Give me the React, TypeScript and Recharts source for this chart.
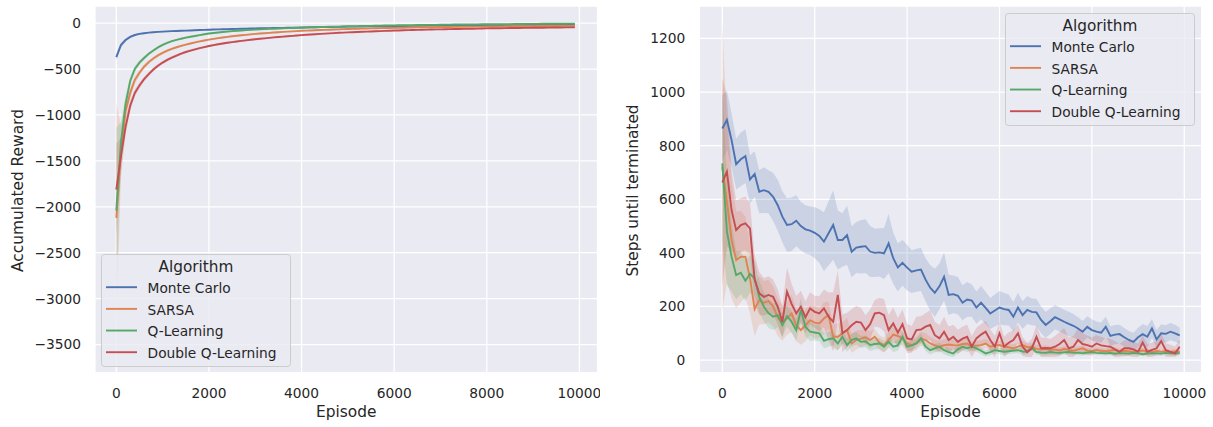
import React from 'react';
import { ComposedChart, Line, Area, XAxis, YAxis, CartesianGrid, Legend } from 'recharts';

// ---------- data ----------
const EPISODES = [
  0, 100, 200, 300, 400, 500, 600, 700, 800, 900,
  1000, 1100, 1200, 1300, 1400, 1500, 1600, 1700, 1800, 1900,
  2000, 2100, 2200, 2300, 2400, 2500, 2600, 2700, 2800, 2900,
  3000, 3100, 3200, 3300, 3400, 3500, 3600, 3700, 3800, 3900,
  4000, 4100, 4200, 4300, 4400, 4500, 4600, 4700, 4800, 4900,
  5000, 5100, 5200, 5300, 5400, 5500, 5600, 5700, 5800, 5900,
  6000, 6100, 6200, 6300, 6400, 6500, 6600, 6700, 6800, 6900,
  7000, 7100, 7200, 7300, 7400, 7500, 7600, 7700, 7800, 7900,
  8000, 8100, 8200, 8300, 8400, 8500, 8600, 8700, 8800, 8900,
  9000, 9100, 9200, 9300, 9400, 9500, 9600, 9700, 9800, 9900,
];

const SERIES_NAMES = ['Monte Carlo', 'SARSA', 'Q-Learning', 'Double Q-Learning'];
const SERIES_KEYS = ['mc', 'sarsa', 'q', 'dq'];
const SERIES_COLORS = ['#4C72B0', '#DD8452', '#55A868', '#C44E52'];

const X_TICKS = [0, 2000, 4000, 6000, 8000, 10000];
const REWARD_TICKS = [-3500, -3000, -2500, -2000, -1500, -1000, -500, 0];
const STEPS_TICKS = [0, 200, 400, 600, 800, 1000, 1200];

// Accumulated reward (left panel)
const MC_REWARD = [
  -370, -240, -185, -150, -130, -118, -110, -104, -100, -96,
  -93, -90, -88, -86, -84, -82, -80, -78, -76, -74,
  -72, -70, -69, -67, -66, -64, -63, -62, -61, -59,
  -58, -57, -56, -55, -54, -53, -52, -51, -50, -49,
  -48, -47, -46, -45, -44, -43, -42, -41, -41, -40,
  -39, -38, -38, -37, -36, -35, -35, -34, -33, -33,
  -32, -31, -31, -30, -30, -29, -29, -28, -28, -27,
  -27, -26, -26, -25, -25, -24, -24, -24, -23, -23,
  -22, -22, -22, -21, -21, -21, -20, -20, -20, -19,
  -19, -19, -18, -18, -18, -17, -17, -17, -16, -16,
];
const SARSA_REWARD = [
  -2120, -1400, -960, -760, -620, -540, -475, -425, -385, -352,
  -324, -300, -280, -263, -248, -235, -222, -210, -199, -189,
  -180, -172, -164, -157, -150, -144, -138, -133, -128, -123,
  -118, -114, -110, -106, -102, -99, -96, -93, -90, -87,
  -84, -82, -80, -78, -76, -74, -72, -70, -68, -66,
  -65, -63, -62, -60, -59, -58, -56, -55, -54, -53,
  -52, -51, -50, -49, -48, -47, -46, -46, -45, -44,
  -43, -43, -42, -41, -41, -40, -39, -39, -38, -38,
  -37, -37, -36, -36, -35, -35, -34, -34, -33, -33,
  -33, -32, -32, -31, -31, -31, -30, -30, -30, -29,
];
const Q_REWARD = [
  -2040, -1300, -880, -630, -500, -430, -380, -335, -298, -265,
  -238, -215, -197, -183, -170, -159, -149, -140, -131, -122,
  -114, -108, -102, -97, -92, -88, -84, -80, -77, -74,
  -71, -68, -66, -63, -61, -59, -57, -55, -53, -51,
  -50, -48, -46, -45, -43, -42, -40, -39, -38, -36,
  -35, -34, -33, -32, -31, -30, -29, -28, -27, -26,
  -25, -24, -24, -23, -22, -21, -21, -20, -19, -19,
  -18, -17, -17, -16, -16, -15, -15, -14, -14, -13,
  -13, -12, -12, -12, -11, -11, -10, -10, -10, -9,
  -9, -9, -8, -8, -8, -7, -7, -7, -6, -6,
];
const DQ_REWARD = [
  -1812, -1450, -1130, -900, -760, -680, -610, -555, -505, -465,
  -430, -400, -375, -353, -333, -315, -300, -286, -273, -261,
  -250, -240, -231, -222, -214, -207, -200, -194, -188, -182,
  -176, -171, -166, -161, -156, -151, -147, -143, -139, -135,
  -131, -127, -124, -121, -118, -115, -112, -109, -106, -104,
  -101, -99, -97, -95, -93, -91, -89, -87, -85, -83,
  -81, -80, -78, -77, -75, -74, -73, -71, -70, -69,
  -68, -67, -66, -65, -64, -63, -62, -61, -60, -59,
  -58, -57, -57, -56, -55, -54, -54, -53, -52, -52,
  -51, -50, -50, -49, -49, -48, -48, -47, -47, -46,
];
// confidence-band half widths (left panel)
const MC_REWARD_CI = [
  40, 28, 18, 14, 12, 10, 9, 8, 8, 7,
  7, 7, 6, 6, 6, 6, 6, 6, 6, 6,
  6, 5, 5, 5, 5, 5, 5, 5, 5, 5,
  5, 5, 5, 5, 5, 5, 5, 5, 5, 5,
  5, 5, 5, 5, 5, 5, 5, 5, 5, 5,
  4, 4, 4, 4, 4, 4, 4, 4, 4, 4,
  4, 4, 4, 4, 4, 4, 4, 4, 4, 4,
  4, 4, 4, 4, 4, 4, 4, 4, 4, 4,
  4, 4, 4, 4, 4, 4, 4, 4, 4, 4,
  4, 4, 4, 4, 4, 4, 4, 4, 4, 4,
];
const SARSA_REWARD_CI = [
  1250, 280, 110, 60, 42, 32, 26, 22, 19, 17,
  16, 15, 14, 13, 13, 12, 12, 11, 11, 11,
  10, 10, 10, 10, 9, 9, 9, 9, 9, 9,
  8, 8, 8, 8, 8, 8, 8, 8, 8, 8,
  7, 7, 7, 7, 7, 7, 7, 7, 7, 7,
  7, 7, 6, 6, 6, 6, 6, 6, 6, 6,
  6, 6, 6, 6, 6, 6, 6, 6, 6, 6,
  6, 6, 6, 6, 6, 5, 5, 5, 5, 5,
  5, 5, 5, 5, 5, 5, 5, 5, 5, 5,
  5, 5, 5, 5, 5, 5, 5, 5, 5, 5,
];
const Q_REWARD_CI = [
  900, 220, 90, 50, 35, 26, 21, 18, 16, 14,
  13, 12, 12, 11, 11, 10, 10, 10, 9, 9,
  9, 9, 9, 8, 8, 8, 8, 8, 8, 8,
  8, 7, 7, 7, 7, 7, 7, 7, 7, 7,
  7, 7, 7, 6, 6, 6, 6, 6, 6, 6,
  6, 6, 6, 6, 6, 6, 6, 6, 6, 6,
  5, 5, 5, 5, 5, 5, 5, 5, 5, 5,
  5, 5, 5, 5, 5, 5, 5, 5, 5, 5,
  5, 5, 5, 5, 5, 5, 5, 5, 5, 5,
  5, 5, 5, 5, 5, 5, 5, 5, 5, 5,
];
const DQ_REWARD_CI = [
  500, 200, 90, 55, 40, 32, 27, 24, 21, 19,
  18, 17, 16, 15, 14, 14, 13, 13, 12, 12,
  12, 11, 11, 11, 10, 10, 10, 10, 10, 10,
  9, 9, 9, 9, 9, 9, 9, 9, 9, 9,
  8, 8, 8, 8, 8, 8, 8, 8, 8, 8,
  8, 8, 7, 7, 7, 7, 7, 7, 7, 7,
  7, 7, 7, 7, 7, 7, 7, 7, 7, 7,
  6, 6, 6, 6, 6, 6, 6, 6, 6, 6,
  6, 6, 6, 6, 6, 6, 6, 6, 6, 6,
  6, 6, 6, 6, 6, 6, 6, 6, 6, 6,
];

// Steps until terminated (right panel)
const MC_STEPS = [
  864, 896, 821, 731, 749, 761, 674, 694, 628, 634,
  628, 609, 578, 535, 504, 507, 520, 500, 488, 483,
  475, 463, 442, 473, 504, 448, 448, 466, 404, 420,
  423, 425, 405, 400, 402, 398, 435, 380, 346, 363,
  345, 330, 335, 338, 300, 270, 251, 275, 311, 243,
  246, 240, 214, 226, 222, 196, 214, 195, 174, 185,
  196, 190, 187, 162, 196, 168, 187, 180, 178, 150,
  131, 145, 160, 152, 143, 135, 128, 118, 106, 124,
  112, 106, 102, 124, 90, 95, 97, 85, 75, 68,
  85, 97, 87, 118, 77, 100, 98, 106, 100, 92,
];
const SARSA_STEPS = [
  720, 591, 450, 373, 386, 385, 305, 190, 224, 214,
  220, 200, 160, 137, 155, 174, 130, 112, 130, 149,
  140, 137, 155, 168, 87, 87, 100, 112, 62, 75,
  80, 85, 75, 87, 65, 56, 75, 95, 90, 81,
  62, 56, 62, 80, 75, 62, 55, 50, 56, 58,
  56, 55, 60, 62, 50, 54, 56, 62, 50, 54,
  56, 50, 48, 44, 50, 56, 48, 50, 42, 40,
  42, 38, 40, 36, 42, 38, 35, 40, 44, 36,
  34, 38, 35, 33, 36, 38, 32, 35, 33, 30,
  34, 36, 32, 30, 34, 31, 33, 30, 32, 31,
];
const Q_STEPS = [
  734, 480, 386, 317, 326, 296, 321, 305, 236, 199,
  175, 162, 168, 131, 164, 143, 112, 187, 124, 106,
  103, 100, 72, 78, 81, 62, 87, 56, 75, 81,
  68, 70, 56, 60, 62, 50, 68, 50, 55, 87,
  50, 55, 62, 81, 50, 37, 44, 50, 37, 30,
  25, 40, 50, 44, 50, 44, 35, 25, 30, 37,
  34, 31, 33, 36, 37, 32, 31, 47, 30, 28,
  27, 30, 28, 27, 29, 30, 28, 27, 26, 28,
  30, 27, 26, 25, 27, 24, 26, 25, 24, 27,
  25, 22, 24, 26, 25, 24, 27, 25, 24, 26,
];
const DQ_STEPS = [
  663, 703, 560, 485, 504, 510, 491, 300, 249, 236,
  243, 236, 199, 143, 255, 210, 174, 199, 160, 193,
  180, 174, 193, 162, 143, 243, 100, 112, 130, 143,
  140, 112, 134, 174, 177, 168, 112, 137, 102, 134,
  81, 77, 112, 114, 125, 131, 93, 81, 106, 75,
  87, 68, 80, 87, 50, 81, 95, 106, 75, 50,
  100, 50, 65, 75, 100, 50, 30, 44, 87, 44,
  45, 44, 50, 60, 75, 44, 50, 75, 60, 56,
  50, 62, 55, 52, 50, 40, 31, 44, 44, 40,
  31, 65, 31, 38, 44, 71, 37, 31, 25, 50,
];
const MC_STEPS_CI = [
  125, 110, 100, 95, 100, 100, 90, 85, 80, 85,
  80, 90, 95, 95, 100, 100, 95, 90, 90, 90,
  95, 100, 110, 120, 130, 110, 100, 110, 95, 95,
  100, 100, 95, 90, 90, 95, 110, 95, 90, 85,
  85, 80, 80, 80, 80, 85, 90, 85, 90, 75,
  70, 70, 65, 65, 60, 60, 62, 60, 58, 60,
  62, 60, 58, 55, 55, 52, 52, 50, 50, 50,
  48, 48, 46, 45, 45, 45, 44, 42, 40, 40,
  40, 38, 38, 38, 36, 36, 35, 35, 34, 34,
  36, 38, 40, 35, 35, 34, 32, 32, 32, 30,
];
const SARSA_STEPS_CI = [
  540, 300, 220, 180, 170, 150, 130, 100, 90, 80,
  80, 75, 70, 65, 60, 70, 60, 55, 60, 55,
  60, 55, 60, 50, 45, 50, 40, 45, 35, 35,
  32, 30, 32, 30, 28, 28, 30, 30, 28, 28,
  26, 25, 25, 26, 25, 24, 22, 22, 22, 22,
  20, 20, 20, 20, 18, 18, 18, 18, 18, 16,
  16, 16, 15, 15, 15, 15, 14, 14, 14, 14,
  13, 13, 13, 12, 12, 12, 12, 12, 11, 11,
  11, 11, 11, 10, 10, 10, 10, 10, 10, 10,
  10, 10, 10, 9, 9, 9, 9, 9, 9, 9,
];
const Q_STEPS_CI = [
  290, 200, 130, 90, 80, 75, 70, 65, 60, 55,
  55, 50, 45, 45, 40, 40, 40, 45, 35, 35,
  30, 30, 28, 28, 26, 26, 25, 25, 24, 24,
  22, 22, 22, 20, 20, 20, 20, 20, 20, 20,
  18, 18, 18, 18, 16, 16, 16, 15, 15, 15,
  14, 14, 14, 14, 13, 13, 13, 12, 12, 12,
  12, 12, 11, 11, 11, 11, 10, 10, 10, 10,
  10, 10, 9, 9, 9, 9, 9, 9, 9, 9,
  8, 8, 8, 8, 8, 8, 8, 8, 8, 8,
  8, 8, 8, 8, 8, 8, 8, 8, 8, 8,
];
const DQ_STEPS_CI = [
  390, 280, 150, 110, 100, 100, 95, 90, 80, 70,
  70, 65, 65, 60, 90, 75, 65, 60, 60, 60,
  60, 65, 70, 90, 110, 90, 70, 65, 60, 60,
  55, 55, 55, 50, 55, 60, 55, 60, 55, 55,
  55, 50, 50, 50, 50, 55, 50, 50, 55, 50,
  45, 45, 45, 45, 40, 40, 40, 40, 40, 40,
  40, 38, 38, 36, 35, 35, 35, 35, 45, 40,
  38, 35, 40, 45, 45, 40, 40, 45, 40, 36,
  34, 32, 32, 30, 30, 30, 30, 30, 28, 28,
  30, 28, 28, 28, 26, 28, 26, 26, 26, 26,
];

// ---------- helpers ----------
type Row = Record<string, number | number[]>;

function buildRows(lines: number[][], halves: number[][], floor: number): Row[] {
  return EPISODES.map((ep, i) => {
    const row: Row = { ep };
    SERIES_KEYS.forEach((k, s) => {
      const v = lines[s][i];
      const h = halves[s][i];
      row[k] = v;
      row[k + 'Band'] = [Math.max(v - h, floor), v + h];
    });
    return row;
  });
}

const REWARD_ROWS = buildRows(
  [MC_REWARD, SARSA_REWARD, Q_REWARD, DQ_REWARD],
  [MC_REWARD_CI, SARSA_REWARD_CI, Q_REWARD_CI, DQ_REWARD_CI],
  -100000
);
const STEPS_ROWS = buildRows(
  [MC_STEPS, SARSA_STEPS, Q_STEPS, DQ_STEPS],
  [MC_STEPS_CI, SARSA_STEPS_CI, Q_STEPS_CI, DQ_STEPS_CI],
  12
);

const FONT = 'DejaVu Sans';
const INK = '#262626';
const H = 427;

const fmt = (v: number) => (v < 0 ? '\u2212' + Math.abs(v) : String(v));

const LegendBox = () => (
  <svg width={191} height={114} style={{ display: 'block', overflow: 'visible' }}>
    <rect x={0.5} y={0.5} width={189} height={112} rx={3} ry={3} fill="#EAEAF2" fillOpacity={0.8} stroke="#CCCCCC" strokeWidth={1} />
    <text x={95} y={18.4} textAnchor="middle" fontSize={15.3} fontFamily={FONT} fill={INK}>
      Algorithm
    </text>
    {SERIES_NAMES.map((name, i) => {
      const base = 39 + 21.67 * i;
      return (
        <g key={name}>
          <line x1={5} x2={36} y1={base - 5.8} y2={base - 5.8} stroke={SERIES_COLORS[i]} strokeWidth={1.9} />
          <text x={46.6} y={base} fontSize={13.75} fontFamily={FONT} fill={INK}>
            {name}
          </text>
        </g>
      );
    })}
  </svg>
);

type PanelProps = {
  rows: Row[];
  width: number;
  yWidth: number;
  rightMargin: number;
  xDomain: [number, number];
  yDomain: [number, number];
  yTicks: number[];
  yLabel: string;
  yLabelX: number;
  xLabelX: number;
  legendLeft: number;
  legendTop: number;
};

function Panel(p: PanelProps) {
  const tickStyle = { fill: INK, fontSize: 13.75, fontFamily: FONT };
  return (
    <ComposedChart
      width={p.width}
      height={H}
      data={p.rows}
      margin={{ top: 6, right: p.rightMargin, bottom: 0, left: 0 }}
    >
      <CartesianGrid fill="#EAEAF2" fillOpacity={1} stroke="#FFFFFF" strokeWidth={1.25} />
      <XAxis
        dataKey="ep"
        type="number"
        domain={p.xDomain}
        ticks={X_TICKS}
        interval={0}
        allowDataOverflow
        tickLine={false}
        axisLine={false}
        tickSize={0}
        tickMargin={16}
        height={54.3}
        tick={tickStyle}
        label={{
          content: () => (
            <text x={p.xLabelX} y={416.7} textAnchor="middle" fontSize={15.4} fontFamily={FONT} fill={INK}>
              Episode
            </text>
          ),
        }}
      />
      <YAxis
        type="number"
        domain={p.yDomain}
        ticks={p.yTicks}
        interval={0}
        allowDataOverflow
        tickLine={false}
        axisLine={false}
        tickSize={0}
        tickMargin={14}
        width={p.yWidth}
        tick={tickStyle}
        tickFormatter={fmt}
        label={{
          content: () => (
            <text
              x={p.yLabelX}
              y={190.5}
              transform={`rotate(-90 ${p.yLabelX} 190.5)`}
              textAnchor="middle"
              fontSize={15.4}
              fontFamily={FONT}
              fill={INK}
            >
              {p.yLabel}
            </text>
          ),
        }}
      />
      {SERIES_KEYS.map((k, i) => (
        <Area
          key={k + 'Band'}
          dataKey={k + 'Band'}
          type="linear"
          stroke="none"
          fill={SERIES_COLORS[i]}
          fillOpacity={0.2}
          isAnimationActive={false}
          activeDot={false}
          legendType="none"
        />
      ))}
      {SERIES_KEYS.map((k, i) => (
        <Line
          key={k}
          dataKey={k}
          name={SERIES_NAMES[i]}
          type="linear"
          stroke={SERIES_COLORS[i]}
          strokeWidth={1.9}
          dot={false}
          activeDot={false}
          isAnimationActive={false}
        />
      ))}
      <Legend
        layout="vertical"
        align="center"
        verticalAlign="middle"
        wrapperStyle={{ left: p.legendLeft, top: p.legendTop, width: 191, height: 114 }}
        content={() => <LegendBox />}
      />
    </ComposedChart>
  );
}

export default function App() {
  return (
    <div style={{ position: 'absolute', left: 0, top: 0, width: 1213, height: 427, background: '#FFFFFF' }}>
      <div style={{ position: 'absolute', left: 0, top: 0 }}>
        <Panel
          rows={REWARD_ROWS}
          width={600}
          yWidth={95}
          rightMargin={2.5}
          xDomain={[-460, 10390]}
          yDomain={[-3806, 186]}
          yTicks={REWARD_TICKS}
          yLabel="Accumulated Reward"
          yLabelX={23}
          xLabelX={346.25}
          legendLeft={100.7}
          legendTop={254.3}
        />
      </div>
      <div style={{ position: 'absolute', left: 600, top: 0 }}>
        <Panel
          rows={STEPS_ROWS}
          width={613}
          yWidth={99.3}
          rightMargin={11.3}
          xDomain={[-498, 10377]}
          yDomain={[-47, 1321]}
          yTicks={STEPS_TICKS}
          yLabel="Steps until terminated"
          yLabelX={38}
          xLabelX={350.5}
          legendLeft={405.3}
          legendTop={13.3}
        />
      </div>
    </div>
  );
}
